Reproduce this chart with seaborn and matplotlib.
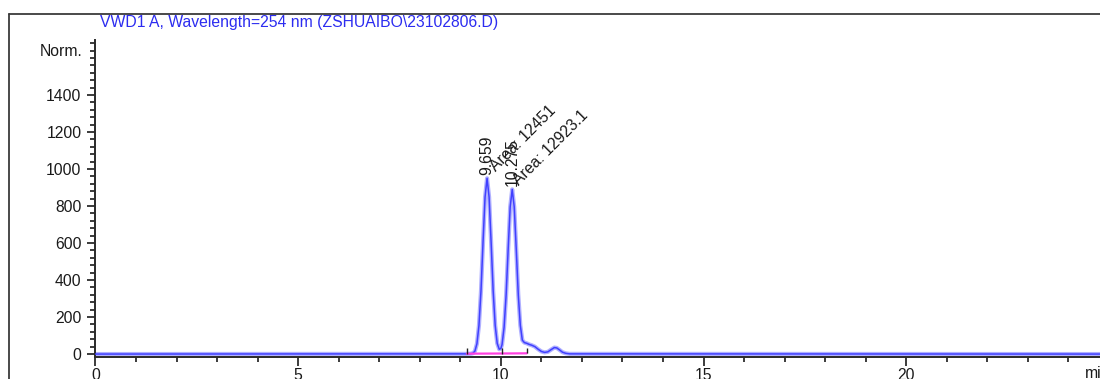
import matplotlib
matplotlib.use("Agg")
import matplotlib.pyplot as plt
import seaborn as sns
import pandas as pd
from matplotlib.lines import Line2D
from matplotlib.ticker import MultipleLocator

# chromatogram trace (time in min, signal in mAU)
time = [0.0, 7.6, 8.5, 9.16, 9.26, 9.31, 9.36, 9.41, 9.46, 9.51, 9.56, 9.61,
        9.66, 9.71, 9.76, 9.81, 9.86, 9.91, 9.96, 10.00, 10.03, 10.08, 10.13,
        10.18, 10.23, 10.28, 10.33, 10.38, 10.43, 10.48, 10.53, 10.58, 10.64,
        10.70, 10.76, 10.84, 10.92, 11.00, 11.08, 11.16, 11.24, 11.32, 11.38,
        11.45, 11.52, 11.60, 11.70, 12.6, 24.8]
signal = [0, 1, 1, 1, 2, 4, 16, 56, 155, 342, 603, 848,
          950, 848, 603, 342, 155, 58, 26, 30, 52, 145, 320,
          565, 795, 890, 795, 565, 320, 155, 75, 62, 58,
          52, 48, 40, 26, 14, 9, 12, 24, 35, 33,
          22, 10, 4, 1, 1, 0]

# integration baseline (pink) and its start/split/end marks
baseline_x = [9.16, 10.03, 10.64]
baseline_y = [2, 3, 4]

# peak labels
peak_rt = [9.659, 10.275]
peak_top = [950, 890]
peak_area = ["12451", "12923.1"]

x_major = [0, 5, 10, 15, 20]
y_major = [0, 200, 400, 600, 800, 1000, 1200, 1400]

title = "VWD1 A, Wavelength=254 nm (ZSHUAIBO\\23102806.D)"

sns.set_style("ticks")
plt.rcParams["font.family"] = ["Liberation Sans", "DejaVu Sans"]
plt.rcParams["font.size"] = 11.3

fig = plt.figure(figsize=(11.0, 3.79), dpi=100)
ax = fig.add_axes([0.0868, 0.058, 0.9132, 0.8354])

df = pd.DataFrame({"time": time, "signal": signal})
sns.lineplot(data=df, x="time", y="signal", ax=ax, color="#b0b0ff",
             linewidth=3.0, sort=False, zorder=2)
sns.lineplot(data=df, x="time", y="signal", ax=ax, color="#4040ff",
             linewidth=1.1, sort=False, zorder=3)

ax.plot(baseline_x, baseline_y, color="#ff40e0", linewidth=1.6, zorder=4)
ax.vlines(baseline_x, baseline_y, [y + 30 for y in baseline_y],
          color="#222222", linewidth=1.0, zorder=5)

for rt, top in zip(peak_rt, peak_top):
    ax.annotate(f"{rt:.3f}", xy=(rt, top), xytext=(0, 3),
                textcoords="offset pixels", rotation=90,
                ha="center", va="bottom", color="#1a1a1a")
area_offsets = [(9, 6), (7, 3)]
for rt, top, area, off in zip(peak_rt, peak_top, peak_area, area_offsets):
    ax.annotate(f"Area: {area}", xy=(rt, top), xytext=off,
                textcoords="offset pixels", rotation=45, rotation_mode="anchor",
                ha="left", va="baseline", color="#1a1a1a")

ax.set_xlim(0, 24.78)
ax.set_ylim(-16, 1695)
ax.set_xticks(x_major)
ax.set_yticks(y_major)
ax.xaxis.set_minor_locator(MultipleLocator(1))
ax.yaxis.set_minor_locator(MultipleLocator(40))
ax.tick_params(axis="both", which="major", direction="out", colors="#1a1a1a",
               width=1.2, length=6.5, pad=1.5)
ax.tick_params(axis="both", which="minor", direction="out", color="#1a1a1a",
               width=1.2, length=3.6)
ax.tick_params(axis="y", which="major", length=6, pad=4)
ax.set_xlabel("")
ax.set_ylabel("")
sns.despine(ax=ax)
for side in ["left", "bottom"]:
    ax.spines[side].set_color("#2a2a2a")
    ax.spines[side].set_linewidth(1.4)

ax.annotate("Norm.", xy=(0, 1), xycoords="axes fraction", xytext=(-13, -11),
            textcoords="offset pixels", ha="right", va="center", color="#1a1a1a")
ax.annotate("min", xy=(24.42, 0), xycoords=("data", "axes fraction"),
            xytext=(0, -16), textcoords="offset pixels", ha="left", va="center",
            color="#1a1a1a", annotation_clip=False)

fig.text(100 / 1100, 1 - 22 / 379, title, ha="left", va="center",
         color="#2c2cf0")

# outer frame of the report panel
fig.add_artist(Line2D([9 / 1100, 9 / 1100], [-0.1, 1 - 14 / 379],
                      transform=fig.transFigure, color="#3a3a3a", linewidth=1.3))
fig.add_artist(Line2D([9 / 1100, 1.1], [1 - 14 / 379, 1 - 14 / 379],
                      transform=fig.transFigure, color="#3a3a3a", linewidth=1.3))

fig.savefig("out.png", dpi=100)
